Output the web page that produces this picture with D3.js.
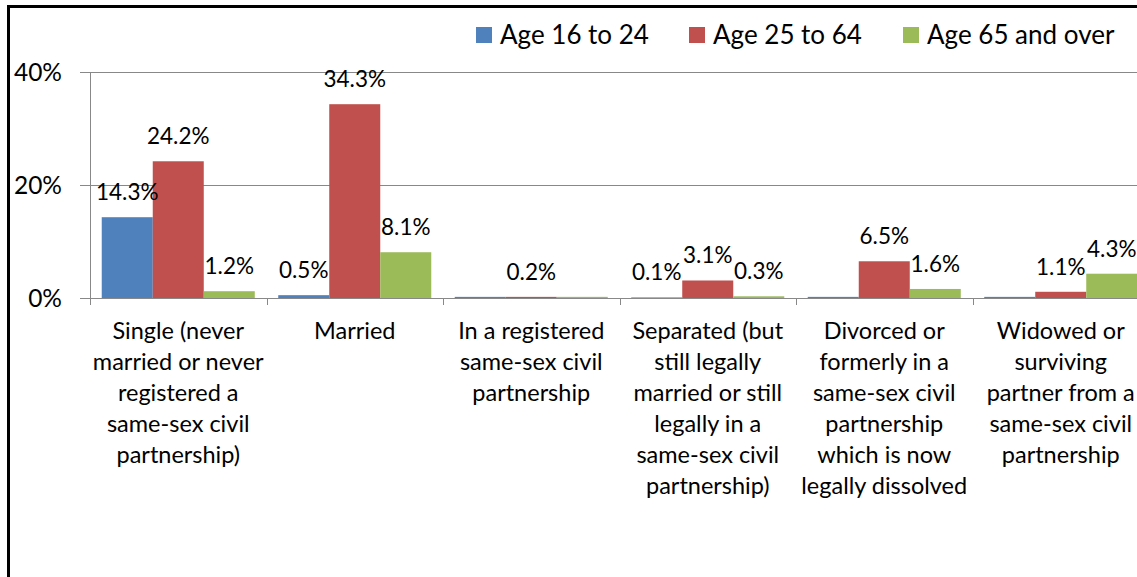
<!DOCTYPE html>
<html>
<head>
<meta charset="utf-8">
<script src="https://cdn.jsdelivr.net/npm/d3@7"></script>
<style>
  html, body { margin: 0; padding: 0; background: #fff; }
  svg { display: block; }
  text { font-family: Lato, "Open Sans", sans-serif; fill: #000; }
</style>
</head>
<body>
<svg id="chart" width="1137" height="577"></svg>
<script>
// ---- Data ----
const categories = [
  "Single (never married or never registered a same-sex civil partnership)",
  "Married",
  "In a registered same-sex civil partnership",
  "Separated (but still legally married or still legally in a same-sex civil partnership)",
  "Divorced or formerly in a same-sex civil partnership which is now legally dissolved",
  "Widowed or surviving partner from a same-sex civil partnership"
];
const categoryLines = [
  ["Single (never", "married or never", "registered a", "same-sex civil", "partnership)"],
  ["Married"],
  ["In a registered", "same-sex civil", "partnership"],
  ["Separated (but", "still legally", "married or still", "legally in a", "same-sex civil", "partnership)"],
  ["Divorced or", "formerly in a", "same-sex civil", "partnership", "which is now", "legally dissolved"],
  ["Widowed or", "surviving", "partner from a", "same-sex civil", "partnership"]
];
const seriesNames = ["Age 16 to 24", "Age 25 to 64", "Age 65 and over"];
const age16to24 = [14.3, 0.5, 0.2, 0.1, 0.2, 0.2];
const age25to64 = [24.2, 34.3, 0.2, 3.1, 6.5, 1.1];
const age65over = [1.2, 8.1, 0.2, 0.3, 1.6, 4.3];
// data labels that are not shown in the original (series index -> category indices)
const hiddenLabels = [[2, 4, 5], [], [2]];
const yTickValues = [0, 20, 40];

const seriesValues = [age16to24, age25to64, age65over];
const colors = ["#4F81BD", "#C0504D", "#9BBB59"];

// ---- Layout ----
const svg = d3.select("#chart");
const plotLeft = 90, plotRight = 1149, plotTop = 72, plotBottom = 298;

const y = d3.scaleLinear().domain([0, 40]).range([plotBottom, plotTop]);
const x0 = d3.scaleBand().domain(categories).range([plotLeft, plotRight]).padding(0);
const x1 = d3.scaleBand().domain(seriesNames).range([0, x0.bandwidth()])
  .paddingInner(0).paddingOuter(0.23);

// Outer chart border (cropped)
svg.append("rect")
  .attr("x", 8.5).attr("y", 6.5)
  .attr("width", 2000).attr("height", 2000)
  .attr("fill", "none").attr("stroke", "#000").attr("stroke-width", 3);

// Gridlines + y axis
const yAxis = d3.axisLeft(y)
  .tickValues(yTickValues)
  .tickSize(-(plotRight - plotLeft))
  .tickFormat(d => d + "%");
const yAxisG = svg.append("g")
  .attr("transform", `translate(${plotLeft},0)`)
  .call(yAxis);
yAxisG.select(".domain").attr("stroke", "#888").attr("stroke-width", 1);
yAxisG.selectAll(".tick line").attr("stroke", "#888").attr("stroke-width", 1)
  .attr("x1", -10);
yAxisG.selectAll(".tick text")
  .attr("x", -28)
  .attr("dy", "0.35em")
  .style("font-family", "Lato, sans-serif")
  .style("font-size", "24.5px")
  .attr("fill", "#000");

// x axis (category ticks between groups)
const xAxisG = svg.append("g")
  .attr("transform", `translate(0,${plotBottom})`);
const boundaries = categories.map(c => x0(c)).concat([plotRight]);
xAxisG.selectAll("line.ctick")
  .data(boundaries)
  .join("line")
  .attr("class", "ctick")
  .attr("x1", d => Math.round(d) + 0.5).attr("x2", d => Math.round(d) + 0.5)
  .attr("y1", 0).attr("y2", 7)
  .attr("stroke", "#888").attr("stroke-width", 1);

// Bars
const groups = svg.append("g").selectAll("g")
  .data(seriesNames)
  .join("g")
  .attr("fill", (d, i) => colors[i]);

groups.each(function(s, si) {
  d3.select(this).selectAll("rect")
    .data(categories.map((c, ci) => ({c, ci, v: seriesValues[si][ci]})))
    .join("rect")
    .attr("x", d => x0(d.c) + x1(s))
    .attr("width", x1.bandwidth())
    .attr("y", d => y(d.v))
    .attr("height", d => y(0) - y(d.v));
});

// Data labels
const labelG = svg.append("g");
seriesNames.forEach((s, si) => {
  labelG.selectAll(null)
    .data(categories.map((c, ci) => ({c, ci, v: seriesValues[si][ci]}))
      .filter(d => !hiddenLabels[si].includes(d.ci)))
    .join("text")
    .attr("x", d => x0(d.c) + x1(s) + x1.bandwidth() / 2)
    .attr("y", d => y(d.v) - 17)
    .attr("text-anchor", "middle")
    .style("font-size", "22.5px")
    .text(d => d.v.toFixed(1) + "%");
});

// Category labels
const catG = svg.append("g");
categories.forEach((c, ci) => {
  const t = catG.append("text")
    .attr("x", x0(c) + x0.bandwidth() / 2)
    .attr("y", 339)
    .attr("text-anchor", "middle")
    .style("font-size", "23.5px");
  categoryLines[ci].forEach((line, li) => {
    t.append("tspan")
      .attr("x", x0(c) + x0.bandwidth() / 2)
      .attr("dy", li === 0 ? 0 : 31)
      .text(line);
  });
});

// Legend
const legendX = [476, 689, 903];
const legend = svg.append("g");
seriesNames.forEach((s, i) => {
  legend.append("rect")
    .attr("x", legendX[i]).attr("y", 27)
    .attr("width", 16).attr("height", 16)
    .attr("fill", colors[i]);
  legend.append("text")
    .attr("x", legendX[i] + 24).attr("y", 35)
    .attr("dy", "0.35em")
    .style("font-size", "26px")
    .text(s);
});
</script>
</body>
</html>
